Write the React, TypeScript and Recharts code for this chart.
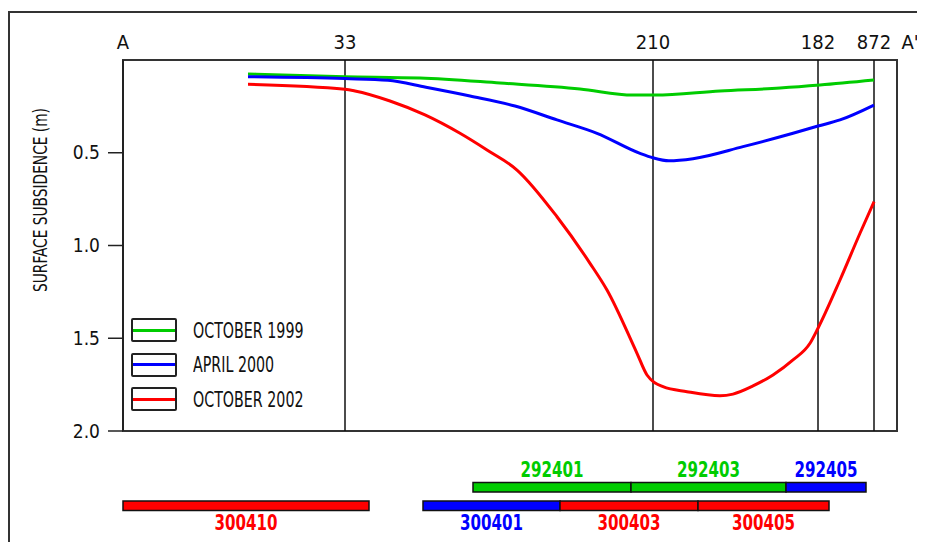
import { ComposedChart, Line, XAxis, YAxis, ReferenceLine, ReferenceArea, Legend } from 'recharts';

const FONT = "'Liberation Sans Narrow', 'DejaVu Sans Condensed', sans-serif";

// distance along section line A-A' and subsidence (m)
const oct1999X = [125, 222, 297, 377, 457, 510, 532, 597, 657, 697, 751];
const oct1999Y = [0.075, 0.09, 0.097, 0.124, 0.156, 0.189, 0.189, 0.167, 0.151, 0.135, 0.108];

const apr2000X = [125, 222, 265, 303, 347, 392, 434, 474, 517, 530, 546, 570, 620, 670, 695, 717, 751];
const apr2000Y = [0.09, 0.1, 0.109, 0.147, 0.194, 0.248, 0.323, 0.395, 0.503, 0.527, 0.543, 0.532, 0.467, 0.395, 0.356, 0.323, 0.243];

const oct2002X = [125, 222, 232, 267, 302, 337, 364, 394, 434, 467, 484, 514, 524, 540, 564, 597, 610, 630, 650, 670, 687, 695, 717, 737, 751];
const oct2002Y = [0.131, 0.158, 0.167, 0.221, 0.296, 0.395, 0.485, 0.593, 0.845, 1.096, 1.24, 1.581, 1.698, 1.761, 1.788, 1.81, 1.801, 1.757, 1.698, 1.617, 1.527, 1.446, 1.186, 0.934, 0.764];

// section markers along the top
const markerLabels = ['A', '33', '210', '182', '872', "A'"];
const markerX = [0, 222, 530, 695, 751, 787];
const markerHasLine = [false, true, true, true, true, false];

// longwall panels below the profile
const panelNames = ['292401', '292403', '292405', '300410', '300401', '300403', '300405'];
const panelStart = [350, 508, 663, 0, 300, 437, 575];
const panelEnd = [508, 663, 743, 246, 437, 575, 706];
const panelRow = [1, 1, 1, 2, 2, 2, 2];
const panelColor = ['#00cc00', '#00cc00', '#0000ff', '#ff0000', '#0000ff', '#ff0000', '#ff0000'];

const rowTop = [2.277, 2.377];
const rowBottom = [2.329, 2.428];

const yTicks = [0.5, 1.0, 1.5, 2.0];

const series = [
  { name: 'OCTOBER 1999', xs: oct1999X, ys: oct1999Y, color: '#00cc00' },
  { name: 'APRIL 2000', xs: apr2000X, ys: apr2000Y, color: '#0000ff' },
  { name: 'OCTOBER 2002', xs: oct2002X, ys: oct2002Y, color: '#ff0000' },
];

function LegendBox() {
  return (
    <div style={{ textAlign: 'left' }}>
      {series.map((s) => (
        <div key={s.name} style={{ display: 'flex', alignItems: 'center', height: 34.5 }}>
          <div
            style={{
              flex: '0 0 auto',
              boxSizing: 'border-box',
              width: 46,
              height: 24,
              border: '2px solid #222',
              borderRadius: 2,
              display: 'flex',
              alignItems: 'center',
            }}
          >
            <div style={{ width: 42, height: 3, background: s.color }} />
          </div>
          <span
            style={{
              flex: '0 0 auto',
              marginLeft: 16,
              fontFamily: FONT,
              fontSize: 22,
              color: '#111',
              display: 'inline-block',
              transform: 'scaleX(0.72)',
              transformOrigin: 'left center',
              whiteSpace: 'nowrap',
            }}
          >
            {s.name}
          </span>
        </div>
      ))}
    </div>
  );
}

export default function App() {
  return (
    <div style={{ position: 'relative', width: 917, height: 534 }}>
      <div
        style={{
          position: 'absolute',
          left: 0,
          top: 3,
          right: 0,
          bottom: 0,
          borderLeft: '2px solid #333',
          borderTop: '2px solid #333',
        }}
      />
      <ComposedChart width={917} height={534} margin={{ top: 52, right: 28, bottom: 111, left: 55 }}>
        <XAxis type="number" dataKey="x" domain={[0, 774]} hide allowDataOverflow />
        <YAxis
          type="number"
          domain={[0, 2]}
          reversed
          ticks={yTicks}
          width={60}
          tickSize={15}
          tickMargin={8}
          axisLine={{ stroke: '#222', strokeWidth: 2 }}
          tickLine={{ stroke: '#222', strokeWidth: 1.5 }}
          tickFormatter={(v: number) => v.toFixed(1)}
          tick={{ fontSize: 19, fill: '#111', fontFamily: FONT }}
          label={{
            content: () => (
              <text
                x={32}
                y={192}
                transform="rotate(-90 32 192)"
                textAnchor="middle"
                dominantBaseline="central"
                fontFamily={FONT}
                fontSize={20}
                fill="#111"
                textLength={184}
                lengthAdjust="spacingAndGlyphs"
              >
                SURFACE SUBSIDENCE (m)
              </text>
            ),
          }}
        />
        <ReferenceArea x1={0} x2={774} y1={0} y2={2} fill="none" stroke="#333" strokeWidth={2} ifOverflow="visible" />
        {markerLabels.map((m, i) => (
          <ReferenceLine
            key={m}
            x={markerX[i]}
            stroke={markerHasLine[i] ? '#111' : 'none'}
            strokeWidth={1.5}
            ifOverflow="visible"
            label={{ value: m, position: 'top', offset: 11, fill: '#111', fontSize: 20, fontFamily: FONT }}
          />
        ))}
        {panelNames.map((n, i) => (
          <ReferenceArea
            key={n}
            x1={panelStart[i]}
            x2={panelEnd[i]}
            y1={rowTop[panelRow[i] - 1]}
            y2={rowBottom[panelRow[i] - 1]}
            fill={panelColor[i]}
            fillOpacity={1}
            stroke="#111"
            strokeWidth={1.5}
            ifOverflow="visible"
            label={{
              value: n,
              position: panelRow[i] === 1 ? 'top' : 'bottom',
              offset: 5,
              fill: panelColor[i],
              fontSize: 21,
              fontWeight: 'bold',
              fontFamily: FONT,
              textLength: 63,
              lengthAdjust: 'spacingAndGlyphs',
            }}
          />
        ))}
        {series.map((s) => (
          <Line
            key={s.name}
            name={s.name}
            data={s.xs.map((x, j) => ({ x, y: s.ys[j] }))}
            dataKey="y"
            type="monotone"
            stroke={s.color}
            strokeWidth={3}
            dot={false}
            isAnimationActive={false}
          />
        ))}
        <Legend
          layout="vertical"
          verticalAlign="middle"
          align="center"
          content={LegendBox}
          wrapperStyle={{ left: 123, top: 305, width: 300 }}
        />
      </ComposedChart>
    </div>
  );
}
